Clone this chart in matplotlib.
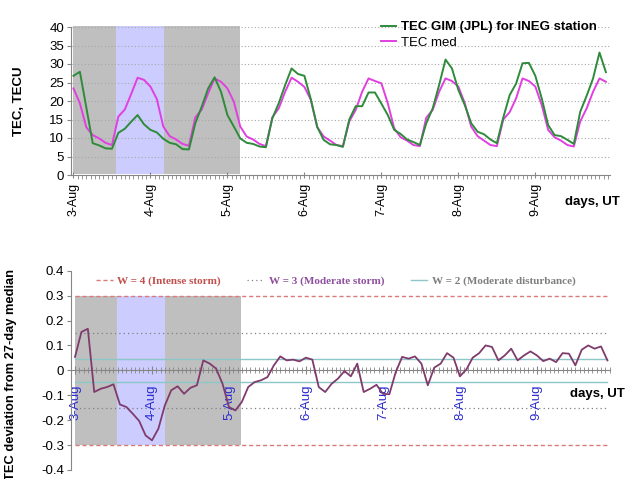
import numpy as np
import matplotlib
matplotlib.use("Agg")
import matplotlib.pyplot as plt
from matplotlib.lines import Line2D
from matplotlib.ticker import FixedLocator, FuncFormatter

plt.rcParams['font.family'] = ['Liberation Sans', 'DejaVu Sans']

# ---------------- data ----------------
day_labels = ['3-Aug', '4-Aug', '5-Aug', '6-Aug', '7-Aug', '8-Aug', '9-Aug']
points_per_day = 12  # 2-hourly values

tec_gim = [26.8, 27.9, 18.3, 8.6, 8.0, 7.2, 7.1, 11.4, 12.5, 14.4, 16.2, 13.7,
           12.2, 11.5, 9.8, 8.7, 8.3, 7.0, 6.9, 14.0, 18.5, 23.4, 26.4, 22.5,
           16.2, 13.1, 9.9, 8.7, 8.4, 7.7, 7.5, 15.3, 19.4, 24.3, 28.8, 27.3,
           26.8, 20.5, 13.0, 9.5, 8.3, 8.1, 7.6, 15.0, 18.6, 18.6, 22.3, 22.3,
           19.3, 16.2, 12.2, 11.1, 9.6, 8.9, 8.1, 14.0, 18.0, 24.3, 31.2, 28.8,
           23.0, 18.9, 14.0, 11.7, 11.0, 9.6, 8.6, 15.5, 21.6, 24.7, 30.2, 30.3,
           26.8, 20.7, 13.5, 10.8, 10.5, 9.5, 8.4, 17.1, 21.4, 26.1, 33.1, 27.8]

tec_med = [23.4, 19.4, 12.9, 10.8, 9.9, 8.7, 8.1, 15.8, 17.7, 21.9, 26.3, 25.7,
           23.9, 20.5, 13.1, 10.5, 9.6, 8.4, 7.9, 15.6, 17.7, 22.1, 26.1, 25.2,
           23.4, 19.8, 13.1, 10.4, 9.6, 8.4, 7.8, 15.6, 18.0, 22.5, 26.3, 25.2,
           23.8, 20.3, 12.9, 10.4, 9.3, 8.1, 7.8, 14.5, 17.6, 22.5, 26.1, 25.4,
           24.8, 19.4, 12.6, 10.2, 9.3, 8.1, 7.8, 15.5, 17.6, 22.5, 26.1, 25.4,
           23.9, 19.4, 13.1, 10.5, 9.3, 8.1, 7.8, 15.0, 17.0, 20.7, 26.1, 25.4,
           23.9, 18.9, 12.2, 10.2, 9.3, 8.1, 7.7, 14.5, 18.0, 22.5, 26.1, 25.2]

tec_dev = [0.054, 0.154, 0.167, -0.087, -0.074, -0.067, -0.056, -0.137, -0.147, -0.174,
           -0.203, -0.261, -0.281, -0.234, -0.141, -0.080, -0.064, -0.094, -0.070, -0.060,
           0.040, 0.027, 0.007, -0.054, -0.147, -0.161, -0.127, -0.067, -0.047, -0.040,
           -0.027, 0.020, 0.056, 0.040, 0.043, 0.036, 0.051, 0.043, -0.067, -0.087,
           -0.054, -0.033, -0.003, -0.024, 0.027, -0.087, -0.074, -0.058, -0.094, -0.096,
           -0.007, 0.054, 0.047, 0.056, 0.027, -0.060, 0.011, 0.027, 0.069, 0.051,
           -0.024, 0.003, 0.051, 0.069, 0.100, 0.094, 0.040, 0.060, 0.087, 0.040,
           0.060, 0.076, 0.060, 0.037, 0.047, 0.033, 0.069, 0.067, 0.020, 0.083,
           0.100, 0.087, 0.096, 0.040]

# storm phases (days from 3-Aug 00 UT)
gray_spans = [(0.0, 0.55), (1.17, 2.16)]
blue_spans = [(0.55, 1.17)]

# W-index thresholds
w4_level = 0.30
w3_level = 0.15
w2_level = 0.046
legend_labels = ['W = 4 (Intense storm)', 'W = 3 (Moderate storm)',
                 'W = 2 (Moderate disturbance)']

x_top = np.arange(len(tec_gim)) / points_per_day
x_bot = np.arange(len(tec_dev)) / points_per_day

GRAY = '#bfbfbf'
BLUE = '#ccccff'
SPINE = '#868686'

fig = plt.figure(figsize=(6.26, 4.79), dpi=100)

# ---------------- top panel ----------------
ax1 = fig.add_axes([71/626, 1-175/479, 539/626, 148/479])
ax1.set_xlim(-0.032, 6.97)
ax1.set_ylim(0, 40)
for a, b in gray_spans:
    ax1.axvspan(a, b, ymin=0.008, ymax=1.01, color=GRAY, lw=0, zorder=0, clip_on=False)
for a, b in blue_spans:
    ax1.axvspan(a, b, ymin=0.008, ymax=1.01, color=BLUE, lw=0, zorder=0, clip_on=False)
for yv in range(5, 45, 5):
    ax1.axhline(yv, color='#a8a8a8', lw=0.8, ls=(0, (1, 2)), zorder=0.5)

l1, = ax1.plot(x_top, tec_gim, color='#2e8b3a', lw=1.4, zorder=3)
l2, = ax1.plot(x_top, tec_med, color='#e040e0', lw=1.4, zorder=2)

for s in ['top', 'right']:
    ax1.spines[s].set_visible(False)
for s in ['left', 'bottom']:
    ax1.spines[s].set_color(SPINE)
ax1.set_yticks(range(0, 45, 5))
ax1.tick_params(axis='y', labelsize=9.5, length=3, color=SPINE, pad=2)
ax1.set_xticks(range(len(day_labels)))
ax1.set_xticklabels(day_labels, rotation=90, fontsize=9, va='top', ha='center')
ax1.xaxis.set_minor_locator(FixedLocator(np.arange(0, 6.97, 1/18)))
ax1.tick_params(axis='x', which='major', length=5, direction='inout', color=SPINE, pad=3)
ax1.tick_params(axis='x', which='minor', length=3, direction='out', color=SPINE)
ax1.set_ylabel('TEC, TECU', fontsize=9.5, fontweight='bold')
ax1.yaxis.set_label_coords(-0.085, 0.5)

leg1 = fig.legend([l1, l2], ['TEC GIM (JPL) for INEG station', 'TEC med'],
                  loc='upper left', bbox_to_anchor=(381/626, 1-21/479),
                  frameon=False, fontsize=9.5, handlelength=1.1, handletextpad=0.4,
                  labelspacing=0.25, borderpad=0, borderaxespad=0)
leg1.get_texts()[0].set_fontweight('bold')
fig.text(565/626, 1-202/479, 'days, UT', fontsize=9.5, fontweight='bold',
         ha='left', va='center')

# ---------------- bottom panel ----------------
ax2 = fig.add_axes([71/626, 1-470/479, 539/626, 199.3/479])
ax2.set_xlim(-0.052, 6.95)
ax2.set_ylim(-0.4, 0.4)
for a, b in gray_spans:
    ax2.fill_between([a, b], -w4_level, w4_level, color=GRAY, lw=0, zorder=0)
for a, b in blue_spans:
    ax2.fill_between([a, b], -w4_level, w4_level, color=BLUE, lw=0, zorder=0)

xr = [x_bot[0], x_bot[-1]]
h4, = ax2.plot(xr, [w4_level]*2, color='#d97b7b', lw=1.0, ls=(0, (3, 2)), zorder=1)
ax2.plot(xr, [-w4_level]*2, color='#d97b7b', lw=1.0, ls=(0, (3, 2)), zorder=1)
h3, = ax2.plot(xr, [w3_level]*2, color='#808080', lw=0.9, ls=(0, (1, 2.5)), zorder=1)
ax2.plot(xr, [-w3_level]*2, color='#808080', lw=0.9, ls=(0, (1, 2.5)), zorder=1)
h2, = ax2.plot(xr, [w2_level]*2, color='#8cc6c6', lw=1.0, zorder=1)
ax2.plot(xr, [-w2_level]*2, color='#8cc6c6', lw=1.0, zorder=1)

ax2.plot(x_bot, tec_dev, color='#7e3b6c', lw=1.3, zorder=3)

for s in ['top', 'right']:
    ax2.spines[s].set_visible(False)
ax2.spines['bottom'].set_position(('data', 0))
for s in ['left', 'bottom']:
    ax2.spines[s].set_color(SPINE)
ax2.set_yticks(np.arange(-0.4, 0.41, 0.1))
ax2.yaxis.set_major_formatter(FuncFormatter(lambda v, p: '0' if abs(v) < 1e-9 else f'{v:.1f}'))
ax2.tick_params(axis='y', labelsize=9.5, length=3, color=SPINE, pad=2)
ax2.set_xticks(range(len(day_labels)))
ax2.set_xticklabels(day_labels, rotation=90, fontsize=9.5, va='top', ha='center',
                    color='#2a2ad0')
ax2.xaxis.set_minor_locator(FixedLocator(np.arange(0, 6.95, 1/18)))
ax2.tick_params(axis='x', which='major', length=6, direction='inout', color=SPINE, pad=7)
ax2.tick_params(axis='x', which='minor', length=4, direction='inout', color=SPINE)
ax2.set_ylabel('TEC deviation from 27-day median', fontsize=9.3, fontweight='bold')
ax2.yaxis.set_label_coords(-0.10, 0.48)

leg2 = fig.legend([h4, h3, h2], legend_labels, loc='center left',
                  bbox_to_anchor=(96/626, 1-281/479), ncol=3, frameon=False,
                  prop={'family': ['Liberation Serif', 'DejaVu Serif'], 'weight': 'bold', 'size': 8},
                  handlelength=1.5, handletextpad=0.4, columnspacing=2.4,
                  borderpad=0, borderaxespad=0)
for t, c in zip(leg2.get_texts(), ['#c0504d', '#8f4f9f', '#7f7f7f']):
    t.set_color(c)

fig.text(570/626, 1-394/479, 'days, UT', fontsize=9.5, fontweight='bold',
         ha='left', va='center')

fig.savefig('out.png', dpi=100)
